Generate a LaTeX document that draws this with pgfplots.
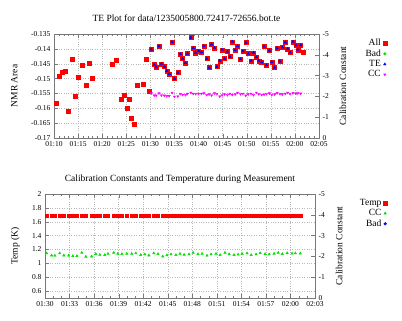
\documentclass[border=0pt]{standalone}
\usepackage{fontspec}
\setmainfont{Liberation Serif}
\usepackage{pgfplots}
\usepackage{pgfplotstable}
\pgfplotsset{compat=1.18}

\definecolor{gpred}{RGB}{255,0,0}
\definecolor{gpgreen}{RGB}{0,225,0}
\definecolor{gpblue}{RGB}{0,0,255}
\definecolor{gpmag}{RGB}{255,0,255}
\definecolor{gpframe}{RGB}{120,120,120}

% points of "All" that have no TE value
\pgfplotstableread{
t v
10.4 -0.1582
11.1 -0.1492
11.8 -0.1477
12.4 -0.1475
13.0 -0.1609
13.7 -0.1434
14.4 -0.1558
15.0 -0.1495
15.9 -0.1455
16.6 -0.1521
17.3 -0.1449
17.9 -0.1500
22.0 -0.1450
22.9 -0.1439
23.9 -0.1568
24.5 -0.1556
25.1 -0.1599
25.6 -0.1570
26.1 -0.1632
26.7 -0.1654
27.2 -0.1522
28.5 -0.1519
29.1 -0.1434
29.7 -0.1541
61.8 -0.1412
}\pretab

% TE points, calibration constant and temperature (minutes after 01:00)
\pgfplotstableread{
t v cc temp
30.2 -0.1402 -2.15 1.69
30.8 -0.1453 -2.05 1.69
31.2 -0.1462 -2.04 1.69
31.8 -0.1391 -2.15 1.69
32.3 -0.1450 -2.05 1.69
32.9 -0.1460 -2.04 1.69
33.4 -0.1474 -2.02 1.69
33.9 -0.1484 -2.02 1.69
34.5 -0.1377 -2.18 1.69
35.0 -0.1500 -1.99 1.69
35.7 -0.1480 -2.00 1.69
36.2 -0.1417 -2.12 1.69
36.7 -0.1433 -2.08 1.69
37.3 -0.1447 -2.07 1.69
37.7 -0.1416 -2.13 1.69
38.4 -0.1362 -2.18 1.69
38.9 -0.1397 -2.13 1.69
39.4 -0.1413 -2.12 1.69
40.0 -0.1407 -2.13 1.69
40.6 -0.1411 -2.13 1.69
41.1 -0.1391 -2.15 1.69
41.7 -0.1433 -2.07 1.69
42.2 -0.1463 -2.10 1.69
42.7 -0.1385 -2.05 1.69
43.3 -0.1397 -2.15 1.69
43.8 -0.1460 -2.12 1.69
44.4 -0.1440 -2.00 1.69
44.9 -0.1403 -2.06 1.69
45.4 -0.1433 -2.10 1.69
46.0 -0.1409 -2.07 1.69
46.5 -0.1426 -2.13 1.69
47.0 -0.1376 -2.08 1.69
47.6 -0.1404 -2.10 1.69
48.1 -0.1391 -2.18 1.69
48.7 -0.1435 -2.11 1.69
49.2 -0.1408 -2.13 1.69
49.8 -0.1379 -2.04 1.69
50.3 -0.1416 -2.10 1.69
50.9 -0.1440 -2.13 1.69
51.4 -0.1413 -2.07 1.69
52.0 -0.1428 -2.18 1.69
52.5 -0.1440 -2.11 1.69
53.1 -0.1445 -2.07 1.69
53.6 -0.1392 -2.09 1.69
54.1 -0.1455 -2.12 1.69
54.7 -0.1406 -2.15 1.69
55.2 -0.1444 -2.07 1.69
55.8 -0.1463 -2.10 1.69
56.3 -0.1398 -2.16 1.69
56.9 -0.1442 -2.12 1.69
57.4 -0.1395 -2.10 1.69
58.0 -0.1378 -2.13 1.69
58.5 -0.1400 -2.18 1.69
59.0 -0.1412 -2.12 1.69
59.6 -0.1376 -2.16 1.69
60.2 -0.1388 -2.14 1.69
60.6 -0.1403 -2.15 1.69
61.2 -0.1388 -2.14 1.69
}\tetab

\pgfplotsset{
  gp/.style={
    scale only axis,
    anchor=south west,
    axis line style={gpframe},
    tick style={gpframe},
    tick align=inside,
    major tick length=4pt,
    minor tick length=2pt,
    tick label style={font=\fontsize{7.5}{9}\selectfont},
    label style={font=\fontsize{9.5}{11}\selectfont},
    title style={font=\fontsize{9.5}{11}\selectfont},
    major grid style={gray!55, dotted},
  },
  gpleg/.style={
    legend plot pos=right,
    legend cell align=right,
    legend style={draw=none, fill=none, font=\fontsize{9.5}{11}\selectfont,
      row sep=-1.5pt, anchor=north east},
  },
}

\begin{document}
\begin{tikzpicture}
\path[use as bounding box] (0,0) rectangle (402pt,321pt);

% ---------- top: TE plot ----------
\begin{axis}[gp,
  at={(54pt,183pt)}, width=265pt, height=104pt,
  xmin=10, xmax=65, ymin=-0.17, ymax=-0.135,
  xtick={10,15,...,65},
  xticklabels={01:10,01:15,01:20,01:25,01:30,01:35,01:40,01:45,01:50,01:55,02:00,02:05},
  minor x tick num=4,
  ytick={-0.17,-0.165,-0.16,-0.155,-0.15,-0.145,-0.14,-0.135},
  yticklabels={-0.17,-0.165,-0.16,-0.155,-0.15,-0.145,-0.14,-0.135},
  ytick pos=left,
  grid=major,
  ylabel={NMR Area},
  ylabel style={at={(axis description cs:-0.15,0.5)}, anchor=center},
  title={TE Plot for data/1235005800.72417-72656.bot.te},
  title style={at={(axis description cs:0.5,1)}, anchor=center, yshift=10pt},
]
\addplot[only marks, mark=square*, gpred, mark size=2pt] table[x=t, y=v] {\pretab};
\addplot[only marks, mark=square*, gpred, mark size=2pt] table[x=t, y=v] {\tetab};
\addplot[only marks, mark=triangle*, gpblue, mark size=1.5pt] table[x=t, y=v] {\tetab};
\end{axis}

\begin{axis}[gp, gpleg,
  at={(54pt,183pt)}, width=265pt, height=104pt,
  xmin=10, xmax=65, ymin=-5, ymax=0, y dir=reverse,
  hide x axis,
  axis y line*=right,
  ytick={-5,-4,-3,-2,-1,0},
  yticklabels={-5,-4,-3,-2,-1,0},
  ylabel={Calibration Constant},
  ylabel style={at={(axis description cs:1.09,0.5)}, anchor=center},
  legend style={at={(axis description cs:1.268,0.99)}},
]
\addlegendimage{only marks, mark=square*, gpred, mark size=2pt}
\addlegendentry{All}
\addlegendimage{only marks, mark=*, gpgreen, mark size=1.4pt}
\addlegendentry{Bad}
\addlegendimage{only marks, mark=triangle*, gpblue, mark size=1.5pt}
\addlegendentry{TE}
\addplot[only marks, mark=triangle*, mark options={rotate=180}, gpmag, mark size=1.3pt] table[x=t, y=cc] {\tetab};
\addlegendentry{CC}
\end{axis}

% ---------- bottom: calibration constants and temperature ----------
\begin{axis}[gp,
  at={(45pt,23pt)}, width=270pt, height=104pt,
  xmin=30, xmax=63, ymin=0.5, ymax=2,
  xtick={30,33,...,63},
  xticklabels={01:30,01:33,01:36,01:39,01:42,01:45,01:48,01:51,01:54,01:57,02:00,02:03},
  minor x tick num=2,
  ytick={0.6,0.8,1,1.2,1.4,1.6,1.8,2},
  yticklabels={0.6,0.8,1,1.2,1.4,1.6,1.8,2},
  ytick pos=left,
  grid=major,
  ylabel={Temp (K)},
  ylabel style={at={(axis description cs:-0.11,0.5)}, anchor=center},
  title={Calibration Constants and Temperature during Measurement},
  title style={at={(axis description cs:0.5,1)}, anchor=center, yshift=9pt},
]
\addplot[only marks, mark=square*, gpred, mark size=1.7pt] table[x=t, y=temp] {\tetab};
\end{axis}

\begin{axis}[gp, gpleg,
  at={(45pt,23pt)}, width=270pt, height=104pt,
  xmin=30, xmax=63, ymin=-5, ymax=0, y dir=reverse,
  hide x axis,
  axis y line*=right,
  ytick={-5,-4,-3,-2,-1,0},
  yticklabels={-5,-4,-3,-2,-1,0},
  ylabel={Calibration Constant},
  ylabel style={at={(axis description cs:1.089,0.5)}, anchor=center},
  legend style={at={(axis description cs:1.278,0.99)}},
]
\addlegendimage{only marks, mark=square*, gpred, mark size=1.7pt}
\addlegendentry{Temp}
\addplot[only marks, mark=triangle*, gpgreen, mark size=1.4pt] table[x=t, y=cc] {\tetab};
\addlegendentry{CC}
\addlegendimage{only marks, mark=*, gpblue, mark size=1.4pt}
\addlegendentry{Bad}
\end{axis}
\end{tikzpicture}
\end{document}
